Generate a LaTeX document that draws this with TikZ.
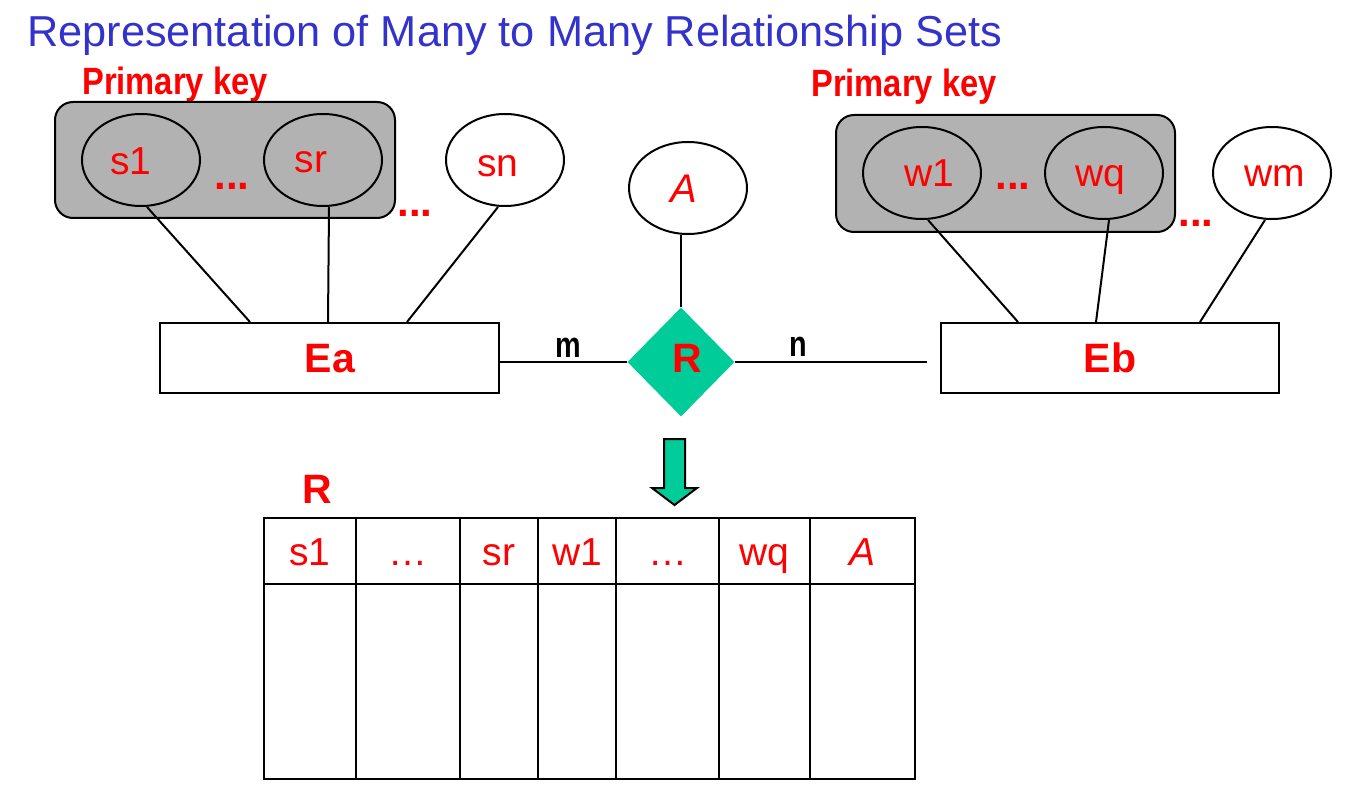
\documentclass[tikz,border=0pt]{standalone}
\usepackage{fontspec}
\setmainfont{Liberation Sans}
\newfontfamily\narrowfont{Liberation Sans}[FakeStretch=0.8]
\newfontfamily\keyfont{Liberation Sans}[FakeStretch=0.86]
\usetikzlibrary{shapes.geometric}
\definecolor{titleblue}{HTML}{3333CC}
\definecolor{keyred}{HTML}{FF0000}
\definecolor{relgreen}{HTML}{00CC99}
\definecolor{pkgray}{HTML}{B2B2B2}
\tikzset{
  attr/.style={ellipse, draw, line width=2pt, minimum width=118pt, minimum height=92pt, inner sep=0pt},
  ent/.style={rectangle, draw, line width=2pt, minimum height=70pt, inner sep=0pt},
  pkbox/.style={rectangle, rounded corners=18pt, draw, fill=pkgray, line width=2pt, inner sep=0pt},
  conn/.style={line width=2pt},
  attrtext/.style={text=keyred, font=\fontsize{39}{42}\selectfont, inner sep=0pt, anchor=base},
  dots/.style={text=keyred, font=\bfseries\fontsize{42}{44}\selectfont, inner sep=0pt, anchor=base},
  pktext/.style={text=keyred, font=\keyfont\bfseries\fontsize{38}{40}\selectfont, inner sep=0pt, anchor=base},
  bigbold/.style={text=keyred, font=\bfseries\fontsize{41}{44}\selectfont, inner sep=0pt, anchor=base},
  card/.style={text=black, font=\narrowfont\bfseries\fontsize{36}{38}\selectfont, inner sep=0pt, anchor=base},
  cell/.style={rectangle, draw, line width=2pt, inner sep=0pt, text=keyred, font=\fontsize{39}{42}\selectfont, text height=28pt, text depth=0pt},
  blockarrow/.style={draw, line width=2pt, fill=relgreen, line join=miter}
}
\begin{document}
\begin{tikzpicture}[x=1pt,y=-1pt]
\useasboundingbox (0,0) rectangle (1346,799);

% title
\node[anchor=base west, inner sep=0pt, text=titleblue, font=\fontsize{43.3}{48}\selectfont] (title) at (27,47) {Representation of Many to Many Relationship Sets};

% primary key labels
\node[pktext] (pkl) at (175,95) {Primary key};
\node[pktext] (pkr) at (904,97) {Primary key};

% grey key boxes
\node[pkbox, minimum width=340pt, minimum height=116pt] (pkA) at (225,160) {};
\node[pkbox, minimum width=339pt, minimum height=117pt] (pkB) at (1005.5,173.5) {};

% attributes left
\node[attr] (s1) at (141,160) {};
\node[attr] (sr) at (323,160) {};
\node[attr, fill=white] (sn) at (505,160) {};
\node[attrtext] (s1t) at (131,175) {s1};
\node[attrtext] (srt) at (311,173) {sr};
\node[attrtext] (snt) at (498,177) {sn};
\node[dots] (dl1) at (232,190) {...};
\node[dots] (dl2) at (415,217) {...};

% attributes right
\node[attr] (w1) at (922,173) {};
\node[attr] (wq) at (1104,173) {};
\node[attr, fill=white] (wm) at (1272,173) {};
\node[attrtext] (w1t) at (929,187) {w1};
\node[attrtext] (wqt) at (1100,187) {wq};
\node[attrtext] (wmt) at (1275,187) {wm};
\node[dots] (dr1) at (1013,190) {...};
\node[dots] (dr2) at (1196,227) {...};

% relationship attribute
\node[attr, fill=white] (A) at (688,188) {};
\node[attrtext, font=\itshape\fontsize{40}{42}\selectfont] (At) at (684,203) {A};

% entities
\node[ent, minimum width=339pt] (Ea) at (329.5,358) {};
\node[ent, minimum width=338pt] (Eb) at (1110,358) {};
\node[bigbold] (Eat) at (330,373) {Ea};
\node[bigbold] (Ebt) at (1110,372) {Eb};

% relationship
\node[diamond, aspect=1, fill=relgreen, minimum width=107pt, minimum height=109pt, inner sep=0pt] (R) at (681,362) {};
\node[bigbold] (Rt) at (687,373) {R};
\node[card] (mt) at (568,357) {m};
\node[card] (nt) at (798,356) {n};

% connectors
\draw[conn] ([xshift=6pt]s1.south) -- ([xshift=91pt]Ea.north west);
\draw[conn] ([xshift=6pt]sr.south) -- ([xshift=169pt]Ea.north west);
\draw[conn] ([xshift=-7pt]sn.south) -- ([xshift=248pt]Ea.north west);
\draw[conn] ([xshift=6pt]w1.south) -- ([xshift=78pt]Eb.north west);
\draw[conn] ([xshift=5pt]wq.south) -- ([xshift=156pt]Eb.north west);
\draw[conn] ([xshift=-7pt]wm.south) -- ([xshift=260pt]Eb.north west);
\draw[conn] (A.south -| R.north) -- (R.north);
\draw[conn] (Ea.east |- R.west) -- (R.west);
\coordinate (ebgap) at ([xshift=-13pt]Eb.west);
\draw[conn] (R.east) -- (ebgap |- R.east);

% block arrow
\coordinate (arrtop) at (674.5,439);
\draw[blockarrow, shift={(arrtop)}] (-10.5,0) -- (10.5,0) -- (10.5,49) -- (22.5,49) -- (0,66) -- (-22.5,49) -- (-10.5,49) -- cycle;

% table
\node[bigbold] (Rtab) at (317,503) {R};
\node[cell, minimum width=92pt,  minimum height=66pt] (h1) at (310,551) {s1};
\node[cell, minimum width=104pt, minimum height=66pt] (h2) at (408,551) {…};
\node[cell, minimum width=78pt,  minimum height=66pt] (h3) at (499,551) {sr};
\node[cell, minimum width=78pt,  minimum height=66pt] (h4) at (577,551) {w1};
\node[cell, minimum width=103pt, minimum height=66pt] (h5) at (667.5,551) {…};
\node[cell, minimum width=91pt,  minimum height=66pt] (h6) at (764.5,551) {wq};
\node[cell, minimum width=105pt, minimum height=66pt, font=\itshape\fontsize{39}{42}\selectfont] (h7) at (862.5,551) {A};
\node[cell, minimum width=92pt,  minimum height=195pt] (b1) at (310,681.5) {};
\node[cell, minimum width=104pt, minimum height=195pt] (b2) at (408,681.5) {};
\node[cell, minimum width=78pt,  minimum height=195pt] (b3) at (499,681.5) {};
\node[cell, minimum width=78pt,  minimum height=195pt] (b4) at (577,681.5) {};
\node[cell, minimum width=103pt, minimum height=195pt] (b5) at (667.5,681.5) {};
\node[cell, minimum width=91pt,  minimum height=195pt] (b6) at (764.5,681.5) {};
\node[cell, minimum width=105pt, minimum height=195pt] (b7) at (862.5,681.5) {};
\end{tikzpicture}
\end{document}
